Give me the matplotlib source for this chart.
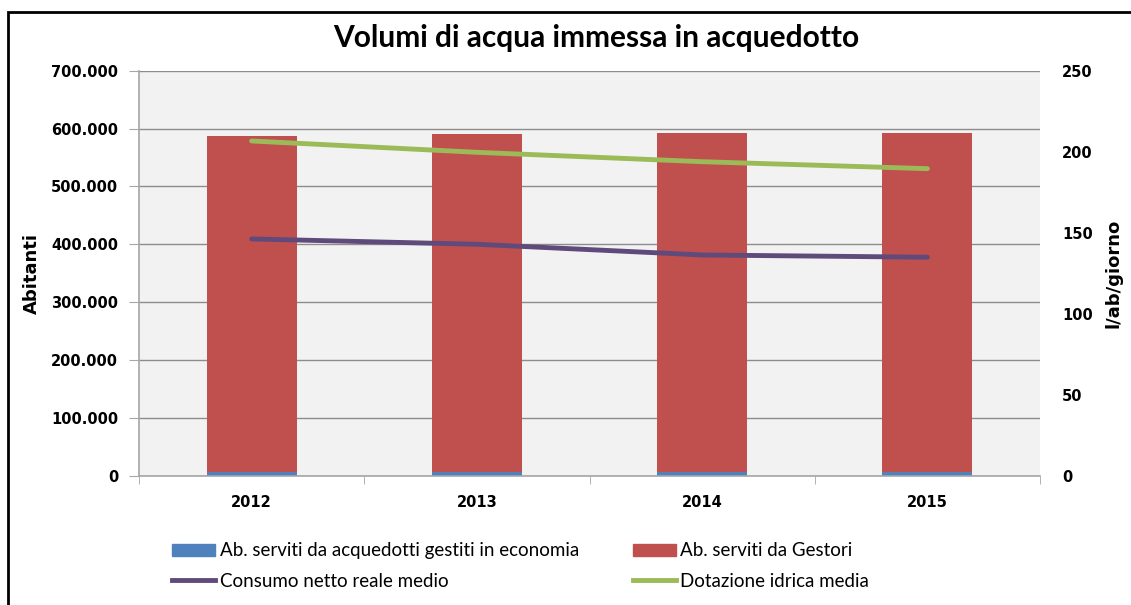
import matplotlib
matplotlib.use("Agg")
import matplotlib.pyplot as plt
from matplotlib.lines import Line2D
from matplotlib.patches import Patch, Rectangle
from matplotlib.ticker import FuncFormatter, MultipleLocator
import numpy as np

# dati
anni = ["2012", "2013", "2014", "2015"]
ab_economia = [5500, 5500, 5500, 5500]
ab_gestori = [581000, 585000, 586200, 586200]
consumo_netto = [146.1, 142.8, 136.2, 134.8]
dotazione_idrica = [206.6, 199.6, 193.8, 189.5]

BLUE = "#4f81bd"
RED = "#c0504d"
PURPLE = "#604a7b"
GREEN = "#9bbb59"
GRID = "#8c8c8c"
SPINE = "#a6a6a6"

W, H = 1131, 605
fig = plt.figure(figsize=(W / 100, H / 100), dpi=100)
fig.patch.set_facecolor("white")

# cornice esterna
fig.add_artist(Rectangle((8 / W, -0.1), 1.2, 1 - 12 / H + 0.1, transform=fig.transFigure,
                         fill=False, edgecolor="black", linewidth=2))

ax = fig.add_axes([139 / W, 1 - 475.5 / H, (1040 - 139) / W, (475.5 - 70.7) / H])
ax.set_facecolor("#f2f2f2")
x = np.arange(len(anni))

ax.bar(x, ab_economia, width=0.4, color=BLUE, zorder=2)
ax.bar(x, ab_gestori, width=0.4, bottom=ab_economia, color=RED, zorder=2)

ax.set_xlim(-0.5, len(anni) - 0.5)
ax.set_ylim(0, 700000)
ax.yaxis.set_major_locator(MultipleLocator(100000))
ax.yaxis.set_major_formatter(FuncFormatter(lambda v, p: "0" if v == 0 else f"{int(v):,}".replace(",", ".")))
ax.grid(axis="y", color=GRID, linewidth=1, zorder=1)
ax.set_axisbelow(True)

ax.set_xticks(x)
ax.set_xticklabels(anni)
ax.set_xticks(np.arange(-0.5, len(anni)), minor=True)
ax.tick_params(axis="x", which="major", length=0, pad=14)
ax.tick_params(axis="x", which="minor", length=6, color=SPINE, direction="out")
ax.tick_params(axis="y", length=7, color=SPINE, pad=8)
for lab in ax.get_xticklabels() + ax.get_yticklabels():
    lab.set_fontweight("bold")
    lab.set_fontsize(10.5)
    lab.set_family("DejaVu Sans")

for s in ["top", "right"]:
    ax.spines[s].set_visible(False)
for s in ["left", "bottom"]:
    ax.spines[s].set_color(SPINE)
    ax.spines[s].set_linewidth(1.2)

ax.set_ylabel("Abitanti", fontsize=13, fontweight="bold", family="DejaVu Sans", labelpad=7)

ax2 = ax.twinx()
ax2.plot(x, consumo_netto, color=PURPLE, linewidth=3.5, solid_capstyle="round", zorder=3)
ax2.plot(x, dotazione_idrica, color=GREEN, linewidth=3.5, solid_capstyle="round", zorder=3)
ax2.set_ylim(0, 250)
ax2.yaxis.set_major_locator(MultipleLocator(50))
ax2.tick_params(axis="y", length=0, pad=16)
for lab in ax2.get_yticklabels():
    lab.set_fontweight("bold")
    lab.set_fontsize(10.5)
    lab.set_family("DejaVu Sans")
for s in ax2.spines.values():
    s.set_visible(False)
ax2.set_ylabel("l/ab/giorno", fontsize=13, fontweight="bold", family="DejaVu Sans", labelpad=8)

fig.text(596 / W, 1 - 38 / H, "Volumi di acqua immessa in acquedotto", ha="center", va="center",
         fontsize=21.5, fontweight="bold", family="Lato")

handles = [
    Patch(facecolor=BLUE, edgecolor=BLUE),
    Line2D([], [], color=PURPLE, linewidth=3.5),
    Patch(facecolor=RED, edgecolor=RED),
    Line2D([], [], color=GREEN, linewidth=3.5),
]
labels = [
    "Ab. serviti da acquedotti gestiti in economia",
    "Consumo netto reale medio",
    "Ab. serviti da Gestori",
    "Dotazione idrica media",
]
fig.legend(handles, labels, ncol=2, loc="center left", bbox_to_anchor=(157 / W, 1 - 566 / H),
           frameon=False, prop={"family": "Lato", "size": 13.5}, handlelength=2.3, handleheight=0.65,
           handletextpad=0.25, columnspacing=2.85, labelspacing=0.7, borderpad=0.3)

fig.savefig("out.png", dpi=100)
